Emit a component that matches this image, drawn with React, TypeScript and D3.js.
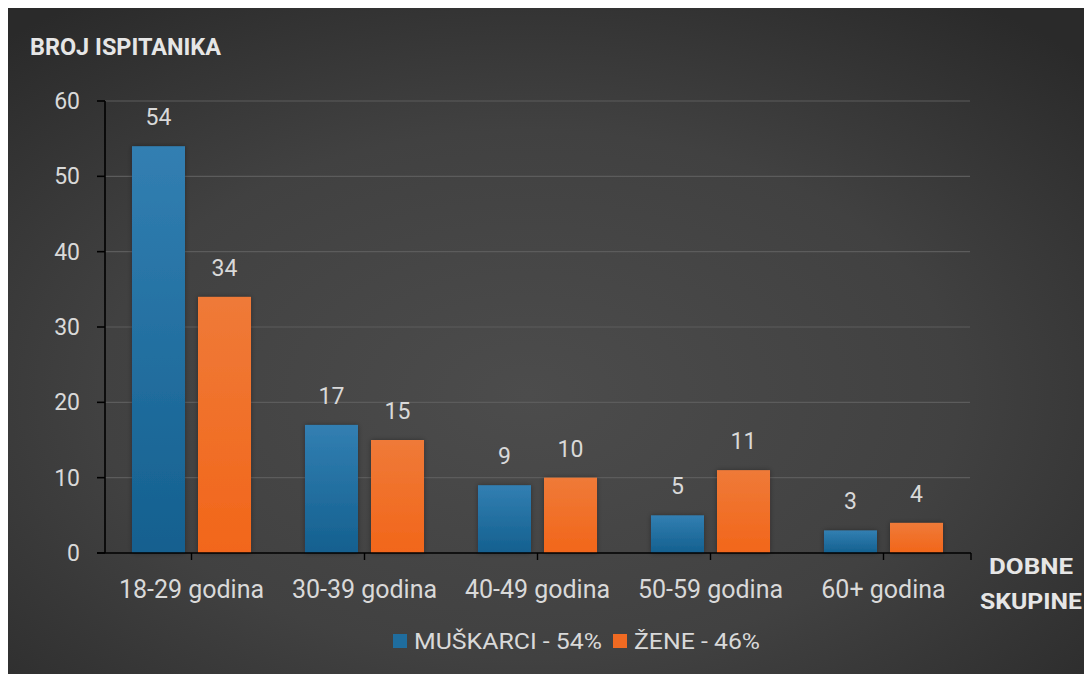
import React from "react";
import * as d3 from "d3";

const categories = ["18-29 godina", "30-39 godina", "40-49 godina", "50-59 godina", "60+ godina"];
const seriesNames = ["MUŠKARCI - 54%", "ŽENE - 46%"];
const muskarci = [54, 17, 9, 5, 3];
const zene = [34, 15, 10, 11, 4];
const yTicks = [0, 10, 20, 30, 40, 50, 60];

const W = 1084;
const H = 666;
const OX = 8; // svg offset on page (body margin)
const OY = 8;

export default function App() {
  const x0 = d3.scaleBand<string>().domain(categories).range([105 - OX, 970 - OX]).padding(0);
  const x1 = d3
    .scaleBand<string>()
    .domain(["m", "z"])
    .range([0, x0.bandwidth()])
    .paddingInner(0.197)
    .paddingOuter(0.409);
  const y = d3.scaleLinear().domain([0, 60]).range([553 - OY, 101 - OY]);

  const txt = "#d9d9d9";
  const font = "Roboto, 'DejaVu Sans', sans-serif";
  const series = [
    { key: "m", values: muskarci, fill: "url(#gBlue)" },
    { key: "z", values: zene, fill: "url(#gOrange)" },
  ];
  const y0 = y(0);
  const xEnd = 970 - OX;
  const xStart = 105 - OX;

  return (
    <svg width={W} height={H} style={{ display: "block" }} fontFamily={font}>
      <defs>
        <radialGradient id="bg" cx="48%" cy="58%" r="72%">
          <stop offset="0%" stopColor="#4c4c4c" />
          <stop offset="55%" stopColor="#414141" />
          <stop offset="100%" stopColor="#2a2a2a" />
        </radialGradient>
        <linearGradient id="gBlue" x1="0" y1="0" x2="0" y2="1">
          <stop offset="0%" stopColor="#327fb2" />
          <stop offset="100%" stopColor="#14608f" />
        </linearGradient>
        <linearGradient id="gOrange" x1="0" y1="0" x2="0" y2="1">
          <stop offset="0%" stopColor="#ef7a38" />
          <stop offset="100%" stopColor="#f2661a" />
        </linearGradient>
        <filter id="sh" x="-20%" y="-20%" width="140%" height="140%">
          <feDropShadow dx="0" dy="0" stdDeviation="2.5" floodColor="#000" floodOpacity="0.35" />
        </filter>
      </defs>
      <rect x={0} y={0} width={W} height={H} fill="url(#bg)" />

      {/* title */}
      <text x={30 - OX} y={55 - OY} fill="#e6e6e6" fontSize={24} fontWeight="bold" textLength={191} lengthAdjust="spacingAndGlyphs">
        BROJ ISPITANIKA
      </text>

      {/* gridlines */}
      {yTicks.filter((t) => t > 0).map((t) => (
        <line key={t} x1={xStart} x2={xEnd} y1={y(t)} y2={y(t)} stroke="#5c5c5c" strokeWidth={1.2} />
      ))}

      {/* bars */}
      {categories.map((c, i) => (
        <g key={c} transform={`translate(${x0(c)},0)`}>
          {series.map((s) => (
            <rect
              key={s.key}
              x={x1(s.key)}
              y={y(s.values[i])}
              width={x1.bandwidth()}
              height={y0 - y(s.values[i])}
              fill={s.fill}
              filter="url(#sh)"
            />
          ))}
          {series.map((s) => (
            <text
              key={"l" + s.key}
              x={(x1(s.key) as number) + x1.bandwidth() / 2}
              y={y(s.values[i]) - 21}
              fill={txt}
              fontSize={23}
              textAnchor="middle"
            >
              {s.values[i]}
            </text>
          ))}
        </g>
      ))}

      {/* y axis */}
      <line x1={xStart} x2={xStart} y1={y(60)} y2={y0} stroke="#000" strokeWidth={1.6} />
      {yTicks.map((t) => (
        <g key={t}>
          <line x1={97 - OX} x2={xStart} y1={y(t)} y2={y(t)} stroke="#000" strokeWidth={1.6} />
          <text x={80 - OX} y={y(t)} dy="0.35em" fill={txt} fontSize={23} textAnchor="end">
            {t}
          </text>
        </g>
      ))}

      {/* x axis */}
      <line x1={97 - OX} x2={xEnd + 1} y1={y0} y2={y0} stroke="#000" strokeWidth={1.6} />
      {categories.map((c) => (
        <line
          key={"t" + c}
          x1={(x0(c) as number) + x0.bandwidth() / 2}
          x2={(x0(c) as number) + x0.bandwidth() / 2}
          y1={y0}
          y2={y0 + 7}
          stroke="#000"
          strokeWidth={1.4}
        />
      ))}
      <line x1={xEnd + 1} x2={xEnd + 1} y1={y0} y2={y0 + 7} stroke="#000" strokeWidth={1.4} />
      {categories.map((c) => (
        <text
          key={"x" + c}
          x={(x0(c) as number) + x0.bandwidth() / 2}
          y={598 - OY}
          fill={txt}
          fontSize={25}
          textAnchor="middle"
        >
          {c}
        </text>
      ))}

      {/* x axis title */}
      <text x={1031 - OX} y={574 - OY} fill="#e6e6e6" fontSize={22} fontWeight="bold" textAnchor="middle" textLength={84} lengthAdjust="spacingAndGlyphs">
        DOBNE
      </text>
      <text x={1031 - OX} y={609 - OY} fill="#e6e6e6" fontSize={22} fontWeight="bold" textAnchor="middle" textLength={102} lengthAdjust="spacingAndGlyphs">
        SKUPINE
      </text>

      {/* legend */}
      <rect x={393 - OX} y={634 - OY} width={14} height={14} fill="#1f6d9e" />
      <text x={414 - OX} y={649 - OY} fill={txt} fontSize={22} textLength={188} lengthAdjust="spacingAndGlyphs">
        {seriesNames[0]}
      </text>
      <rect x={613 - OX} y={634 - OY} width={14} height={14} fill="#f06a22" />
      <text x={634 - OX} y={649 - OY} fill={txt} fontSize={22} textLength={126} lengthAdjust="spacingAndGlyphs">
        {seriesNames[1]}
      </text>
    </svg>
  );
}
